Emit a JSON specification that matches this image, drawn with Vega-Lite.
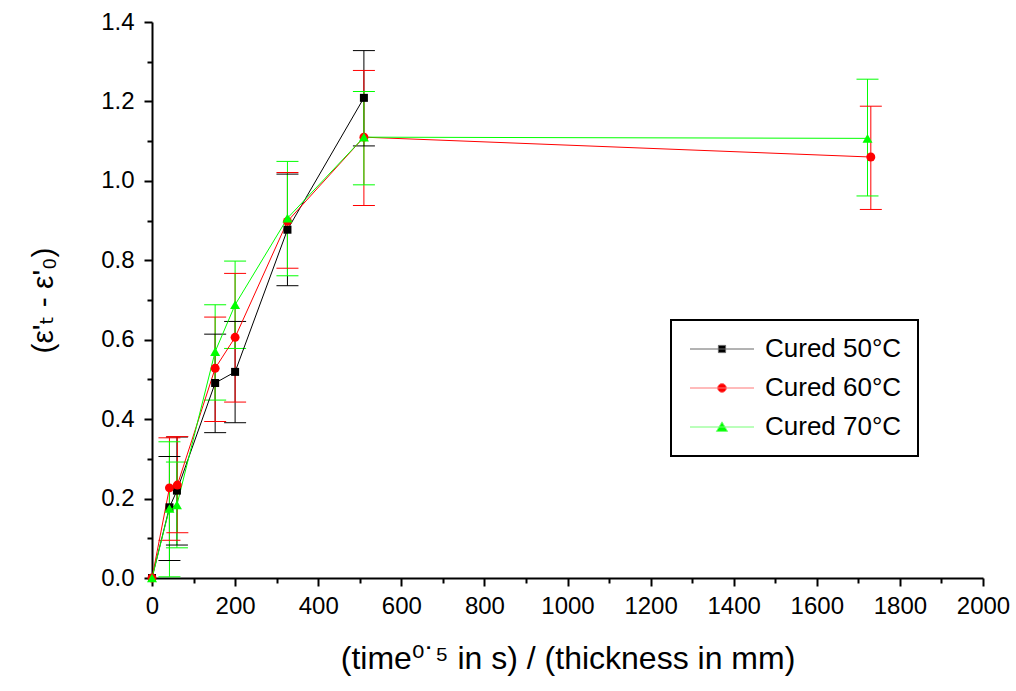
{
  "$schema": "https://vega.github.io/schema/vega-lite/v6.json",
  "width": 831,
  "height": 556,
  "autosize": {"type": "none"},
  "padding": {"left": 152, "top": 22, "right": 33, "bottom": 113},
  "background": "white",
  "config": {
    "view": {"stroke": null},
    "font": "Liberation Sans",
    "legend": {"strokeColor": "black", "strokeWidth": 2},
    "axis": {
      "domainColor": "black", "domainWidth": 2,
      "tickColor": "black", "tickWidth": 2,
      "labelColor": "black", "labelFont": "Liberation Sans", "labelFontSize": 24,
      "titleColor": "black", "titleFont": "Liberation Sans, DejaVu Sans", "titleFontWeight": "normal",
      "grid": false
    }
  },
  "data": {
    "values": [
      {"s": "Cured 50°C", "x": 0, "y": 0, "lo": null, "hi": null},
      {"s": "Cured 50°C", "x": 42, "y": 0.178, "lo": 0.044, "hi": 0.306},
      {"s": "Cured 50°C", "x": 60, "y": 0.22, "lo": 0.083, "hi": 0.355},
      {"s": "Cured 50°C", "x": 152, "y": 0.491, "lo": 0.366, "hi": 0.614},
      {"s": "Cured 50°C", "x": 200, "y": 0.519, "lo": 0.391, "hi": 0.646},
      {"s": "Cured 50°C", "x": 326, "y": 0.877, "lo": 0.736, "hi": 1.017},
      {"s": "Cured 50°C", "x": 510, "y": 1.209, "lo": 1.088, "hi": 1.328},
      {"s": "Cured 60°C", "x": 0, "y": 0, "lo": null, "hi": null},
      {"s": "Cured 60°C", "x": 42, "y": 0.227, "lo": 0.095, "hi": 0.353},
      {"s": "Cured 60°C", "x": 61, "y": 0.234, "lo": 0.114, "hi": 0.356},
      {"s": "Cured 60°C", "x": 152, "y": 0.528, "lo": 0.394, "hi": 0.657},
      {"s": "Cured 60°C", "x": 200, "y": 0.606, "lo": 0.443, "hi": 0.767},
      {"s": "Cured 60°C", "x": 326, "y": 0.898, "lo": 0.78, "hi": 1.021},
      {"s": "Cured 60°C", "x": 510, "y": 1.11, "lo": 0.938, "hi": 1.278},
      {"s": "Cured 60°C", "x": 1730, "y": 1.06, "lo": 0.928, "hi": 1.188},
      {"s": "Cured 70°C", "x": 0, "y": 0, "lo": null, "hi": null},
      {"s": "Cured 70°C", "x": 42, "y": 0.175, "lo": 0.003, "hi": 0.343},
      {"s": "Cured 70°C", "x": 60, "y": 0.184, "lo": 0.076, "hi": 0.292},
      {"s": "Cured 70°C", "x": 152, "y": 0.57, "lo": 0.448, "hi": 0.688},
      {"s": "Cured 70°C", "x": 200, "y": 0.688, "lo": 0.578, "hi": 0.798},
      {"s": "Cured 70°C", "x": 326, "y": 0.906, "lo": 0.761, "hi": 1.049},
      {"s": "Cured 70°C", "x": 510, "y": 1.11, "lo": 0.99, "hi": 1.225},
      {"s": "Cured 70°C", "x": 1722, "y": 1.107, "lo": 0.962, "hi": 1.256}
    ]
  },
  "layer": [
    {
      "transform": [{"filter": "isValid(datum.lo)"}],
      "mark": {"type": "rule", "strokeWidth": 1},
      "encoding": {
        "x": {"field": "x", "type": "quantitative", "scale": {"domain": [0, 2000], "nice": false},
          "axis": {"orient": "bottom", "values": [0, 200, 400, 600, 800, 1000, 1200, 1400, 1600, 1800, 2000], "format": "d", "tickSize": 8, "labelPadding": 8, "title": "(time⁰˙⁵ in s) / (thickness in mm)", "titleFontSize": 32, "titlePadding": 25, "labelFlush": false}},
        "y": {"field": "lo", "type": "quantitative", "scale": {"domain": [0, 1.4], "nice": false},
          "axis": {"orient": "left", "values": [0, 0.2, 0.4, 0.6, 0.8, 1.0, 1.2, 1.4], "format": ".1f", "tickSize": 8, "labelPadding": 10, "title": "(ε'ₜ - ε'₀)", "titleFontSize": 30, "titlePadding": 42, "labelFlush": false}},
        "y2": {"field": "hi"},
        "color": {"field": "s", "type": "nominal", "scale": {"range": ["#000000", "#ff0000", "#00ff00"]}, "legend": null}
      }
    },
    {
      "transform": [{"filter": "isValid(datum.lo)"}],
      "mark": {"type": "tick", "orient": "horizontal", "size": 22, "thickness": 1, "opacity": 1},
      "encoding": {
        "x": {"field": "x", "type": "quantitative", "axis": null},
        "y": {"field": "lo", "type": "quantitative", "axis": null},
        "color": {"field": "s", "type": "nominal", "legend": null}
      }
    },
    {
      "transform": [{"filter": "isValid(datum.hi)"}],
      "mark": {"type": "tick", "orient": "horizontal", "size": 22, "thickness": 1, "opacity": 1},
      "encoding": {
        "x": {"field": "x", "type": "quantitative", "axis": null},
        "y": {"field": "hi", "type": "quantitative", "axis": null},
        "color": {"field": "s", "type": "nominal", "legend": null}
      }
    },
    {
      "mark": {"type": "line", "strokeWidth": 1},
      "encoding": {
        "x": {"field": "x", "type": "quantitative",
          "axis": {"orient": "bottom", "values": [100, 300, 500, 700, 900, 1100, 1300, 1500, 1700, 1900], "tickSize": 5, "labels": false, "domain": false, "title": null}},
        "y": {"field": "y", "type": "quantitative",
          "axis": {"orient": "left", "values": [0.1, 0.3, 0.5, 0.7, 0.9, 1.1, 1.3], "tickSize": 5, "labels": false, "domain": false, "title": null}},
        "color": {"field": "s", "type": "nominal", "legend": null}
      }
    },
    {
      "transform": [{"filter": "datum.s == 'Cured 50°C'"}],
      "mark": {"type": "point", "filled": true, "opacity": 1, "size": 64, "shape": "square"},
      "encoding": {
        "x": {"field": "x", "type": "quantitative", "axis": null},
        "y": {"field": "y", "type": "quantitative", "axis": null},
        "color": {"field": "s", "type": "nominal", "legend": null}
      }
    },
    {
      "transform": [{"filter": "datum.s == 'Cured 60°C'"}],
      "mark": {"type": "point", "filled": true, "opacity": 1, "size": 80, "shape": "circle"},
      "encoding": {
        "x": {"field": "x", "type": "quantitative", "axis": null},
        "y": {"field": "y", "type": "quantitative", "axis": null},
        "color": {"field": "s", "type": "nominal", "legend": null}
      }
    },
    {
      "transform": [{"filter": "datum.s == 'Cured 70°C'"}],
      "mark": {"type": "point", "filled": true, "opacity": 1, "size": 100, "shape": "triangle-up"},
      "encoding": {
        "x": {"field": "x", "type": "quantitative", "axis": null},
        "y": {"field": "y", "type": "quantitative", "axis": null},
        "color": {"field": "s", "type": "nominal", "legend": null}
      }
    },
    {
      "mark": {"type": "point", "filled": true, "opacity": 0, "strokeWidth": 1},
      "encoding": {
        "x": {"field": "x", "type": "quantitative", "axis": null},
        "y": {"field": "y", "type": "quantitative", "axis": null},
        "fill": {"field": "s", "type": "nominal", "scale": {"domain": ["Cured 50°C", "Cured 60°C", "Cured 70°C"], "range": ["#000000", "#ff0000", "#00ff00"]},
          "legend": {"title": null, "orient": "none", "legendX": 519, "legendY": 298, "padding": 16, "symbolSize": 64, "symbolOffset": 22, "labelOffset": 30, "symbolOpacity": 1, "symbolStrokeWidth": 1, "labelFont": "Liberation Sans", "labelFontSize": 26, "labelColor": "black", "rowPadding": 13, "labelLimit": 300}},
        "stroke": {"field": "s", "type": "nominal", "scale": {"domain": ["Cured 50°C", "Cured 60°C", "Cured 70°C"], "range": ["#666666", "#ff7777", "#77ff77"]},
          "legend": {"title": null, "orient": "none", "legendX": 519, "legendY": 298, "padding": 16, "symbolSize": 64, "symbolOffset": 22, "labelOffset": 30, "symbolOpacity": 1, "symbolStrokeWidth": 1, "labelFont": "Liberation Sans", "labelFontSize": 26, "labelColor": "black", "rowPadding": 13, "labelLimit": 300}},
        "shape": {"field": "s", "type": "nominal", "scale": {"domain": ["Cured 50°C", "Cured 60°C", "Cured 70°C"], "range": ["M-8,0H8M-0.9,-0.9H0.9V0.9H-0.9Z", "M-8,0H8M1.1,0A1.1,1.1,0,1,1,-1.1,0A1.1,1.1,0,1,1,1.1,0Z", "M-8,0H8M0,-1.3L1.4,1.1L-1.4,1.1Z"]},
          "legend": {"title": null, "orient": "none", "legendX": 519, "legendY": 298, "padding": 16, "symbolSize": 64, "symbolOffset": 22, "labelOffset": 30, "symbolOpacity": 1, "symbolStrokeWidth": 1, "labelFont": "Liberation Sans", "labelFontSize": 26, "labelColor": "black", "rowPadding": 13, "labelLimit": 300}}
      }
    }
  ],
  "resolve": {"axis": {"x": "independent", "y": "independent"}}
}
